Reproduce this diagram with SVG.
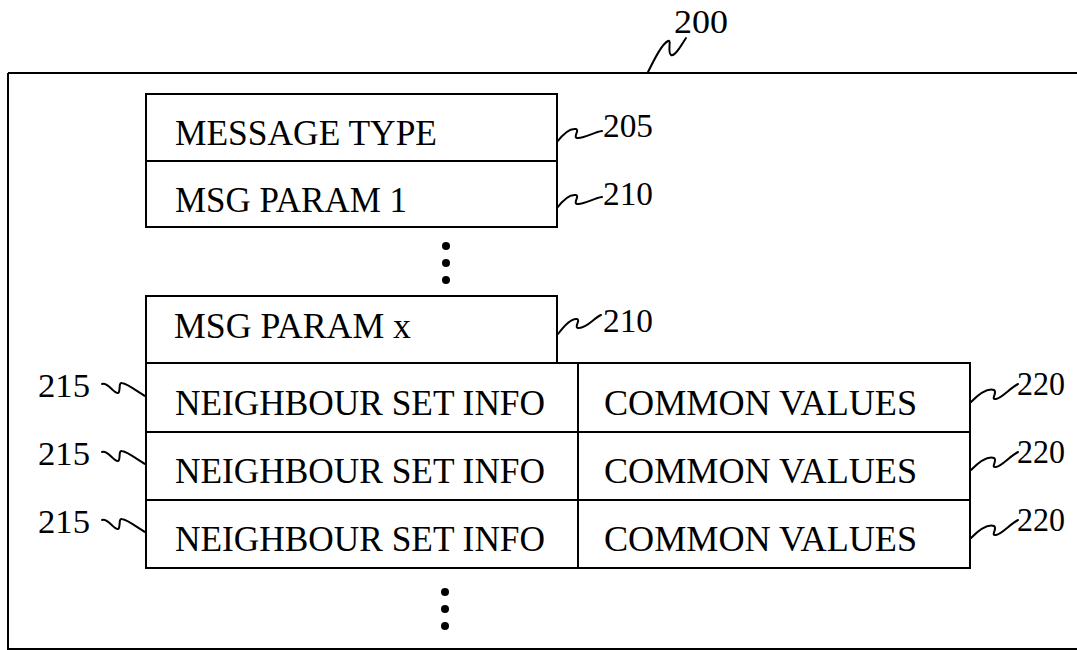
<svg xmlns="http://www.w3.org/2000/svg" width="1077" height="650" viewBox="0 0 1077 650">
<style>
.box{fill:none;stroke:#000;stroke-width:2}
.t{font-family:"Liberation Serif","Times New Roman",serif;font-size:35px;fill:#000}
.lbl{font-family:"Liberation Serif","Times New Roman",serif;font-size:34px;fill:#000}
.sq{fill:none;stroke:#000;stroke-width:2;stroke-linecap:round}
.dot{fill:#000}
</style>
<rect width="1077" height="650" fill="#fff"/>
<g id="frame200">
<path class="box" d="M8,73 H1080 M8,73 V649 H1080"/>
<text class="lbl" x="674" y="33" textLength="54" lengthAdjust="spacingAndGlyphs">200</text>
</g>
<g id="msgtype205">
<rect class="box" x="146" y="94" width="411" height="67"/>
<text class="t" x="175" y="145" textLength="262" lengthAdjust="spacingAndGlyphs">MESSAGE TYPE</text>
<text class="lbl" x="603" y="137" textLength="50" lengthAdjust="spacingAndGlyphs">205</text>
</g>
<g id="msgparam1">
<rect class="box" x="146" y="161" width="411" height="66"/>
<text class="t" x="175" y="212" textLength="232" lengthAdjust="spacingAndGlyphs">MSG PARAM 1</text>
<text class="lbl" x="603" y="205" textLength="50" lengthAdjust="spacingAndGlyphs">210</text>
</g>
<g id="dots-top">
<circle class="dot" cx="446" cy="246" r="4"/>
<circle class="dot" cx="446" cy="263" r="4"/>
<circle class="dot" cx="446" cy="280" r="4"/>
</g>
<g id="msgparamx">
<rect class="box" x="146" y="296" width="411" height="67"/>
<text class="t" x="174" y="338" textLength="237" lengthAdjust="spacingAndGlyphs">MSG PARAM x</text>
<text class="lbl" x="603" y="332" textLength="50" lengthAdjust="spacingAndGlyphs">210</text>
</g>
<g id="neigh1">
<rect class="box" x="146" y="363" width="432" height="69"/>
<text class="t" x="175" y="415" textLength="370" lengthAdjust="spacingAndGlyphs">NEIGHBOUR SET INFO</text>
<text class="lbl" x="38" y="397" textLength="52" lengthAdjust="spacingAndGlyphs">215</text>
</g>
<g id="common1">
<rect class="box" x="578" y="363" width="392" height="69"/>
<text class="t" x="604" y="415" textLength="313" lengthAdjust="spacingAndGlyphs">COMMON VALUES</text>
<text class="lbl" x="1017" y="395" textLength="48" lengthAdjust="spacingAndGlyphs">220</text>
</g>
<g id="neigh2">
<rect class="box" x="146" y="432" width="432" height="68"/>
<text class="t" x="175" y="483" textLength="370" lengthAdjust="spacingAndGlyphs">NEIGHBOUR SET INFO</text>
<text class="lbl" x="38" y="465" textLength="52" lengthAdjust="spacingAndGlyphs">215</text>
</g>
<g id="common2">
<rect class="box" x="578" y="432" width="392" height="68"/>
<text class="t" x="604" y="483" textLength="313" lengthAdjust="spacingAndGlyphs">COMMON VALUES</text>
<text class="lbl" x="1017" y="463" textLength="48" lengthAdjust="spacingAndGlyphs">220</text>
</g>
<g id="neigh3">
<rect class="box" x="146" y="500" width="432" height="68"/>
<text class="t" x="175" y="551" textLength="370" lengthAdjust="spacingAndGlyphs">NEIGHBOUR SET INFO</text>
<text class="lbl" x="38" y="533" textLength="52" lengthAdjust="spacingAndGlyphs">215</text>
</g>
<g id="common3">
<rect class="box" x="578" y="500" width="392" height="68"/>
<text class="t" x="604" y="551" textLength="313" lengthAdjust="spacingAndGlyphs">COMMON VALUES</text>
<text class="lbl" x="1017" y="531" textLength="48" lengthAdjust="spacingAndGlyphs">220</text>
</g>
<g id="dots-bottom">
<circle class="dot" cx="445" cy="592" r="4"/>
<circle class="dot" cx="445" cy="609" r="4"/>
<circle class="dot" cx="445" cy="626" r="4"/>
</g>
<g id="connectors">
<path class="sq" d="M648,72 C655,58 662,44 668,41 C672,39 667,52 671,55 C675,57 682,44 686,38"/>
<path class="sq" d="M557,142 C563,134 570,128 576,129 C580,130 572,138 578,138 C586,138 594,132 602,131"/>
<path class="sq" d="M557,208 C563,200 570,194 576,195 C580,196 572,204 578,204 C586,204 594,198 602,197"/>
<path class="sq" d="M558,334 C564,326 571,318 577,319 C581,320 573,328 579,328 C587,328 594,318 601,315"/>
<path class="sq" d="M102,384 C108,382 114,394 118,393 C121,392 118,382 122,383 C128,384 138,392 145,396"/>
<path class="sq" d="M102,452 C108,450 114,462 118,461 C121,460 118,450 122,451 C128,452 138,460 145,464"/>
<path class="sq" d="M102,520 C108,518 114,530 118,529 C121,528 118,518 122,519 C128,520 138,528 145,532"/>
<path class="sq" d="M971,402 C979,394 988,388 994,390 C998,392 990,400 996,399 C1002,398 1010,388 1018,384"/>
<path class="sq" d="M971,470 C979,462 988,456 994,458 C998,460 990,468 996,467 C1002,466 1010,456 1018,452"/>
<path class="sq" d="M971,538 C979,530 988,524 994,526 C998,528 990,536 996,535 C1002,534 1010,524 1018,520"/>
</g>
</svg>
